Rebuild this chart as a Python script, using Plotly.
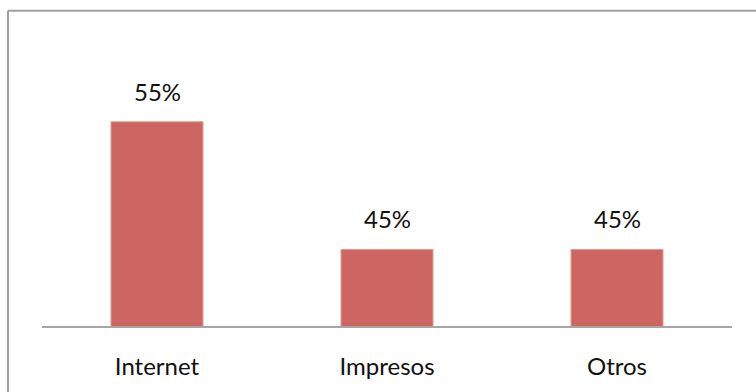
import plotly.graph_objects as go

categories = ["Internet", "Impresos", "Otros"]
values = [55, 45, 45]
labels = ["55%", "45%", "45%"]

bar_color = "#CD6660"
font_family = "Lato, 'Open Sans', sans-serif"

fig = go.Figure()
fig.add_trace(go.Bar(
    x=categories, y=values,
    marker=dict(color=bar_color, line=dict(color="#E09A95", width=1)),
    hoverinfo="skip",
))

for c, v, t in zip(categories, values, labels):
    fig.add_annotation(x=c, y=v, text=t, showarrow=False, yanchor="bottom",
                       yshift=14, font=dict(size=24, color="#111111", family=font_family))

border = dict(color="#A0A0A0", width=2)
fig.update_layout(
    width=756, height=392,
    margin=dict(l=42, r=24, t=58, b=62),
    paper_bgcolor="white", plot_bgcolor="white",
    showlegend=False,
    bargap=0.6,
    xaxis=dict(showline=True, linecolor="#A6A6A6", linewidth=2, ticks="",
               tickfont=dict(size=24, color="#111111", family=font_family),
               ticklabelstandoff=18, showgrid=False, zeroline=False),
    yaxis=dict(range=[39, 60], visible=False, showgrid=False, zeroline=False),
    shapes=[
        dict(type="line", xref="paper", yref="paper", x0=-0.0493, x1=1.05, y0=1.176, y1=1.176, line=border),
        dict(type="line", xref="paper", yref="paper", x0=-0.0493, x1=-0.0493, y0=-0.3, y1=1.176, line=border),
    ],
)

fig.write_html("out.html")
